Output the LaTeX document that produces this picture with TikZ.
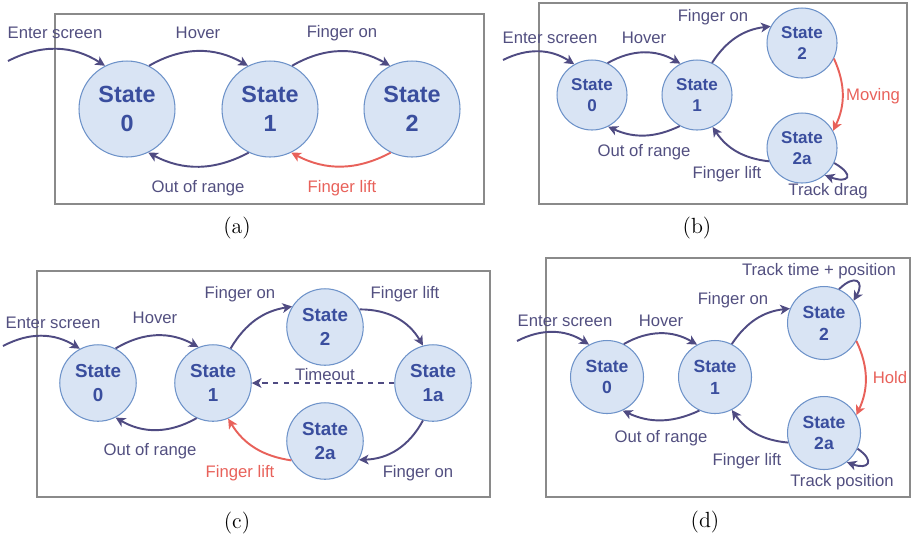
\documentclass[tikz,border=0pt]{standalone}
\usepackage{fontspec}
\usepackage{tikz}
\usetikzlibrary{arrows.meta}
\newfontfamily\lsans{Liberation Sans}
\definecolor{stfill}{HTML}{D9E4F4}
\definecolor{stline}{HTML}{6D92C9}
\definecolor{sttext}{HTML}{3A4E9E}
\definecolor{arr}{HTML}{4F4B82}
\definecolor{lbtext}{HTML}{524F80}
\definecolor{redc}{HTML}{E8615A}
\definecolor{frm}{HTML}{8A8A8A}

\begin{document}
\begin{tikzpicture}[x=0.02cm, y=-0.02cm, >={Stealth[length=5.5pt,width=5.5pt,inset=1.5pt]}]
	\tikzstyle{st} = [circle, draw=stline, fill=stfill, line width=.6pt, text=sttext, align=center, inner sep=0pt]
	\tikzstyle{sa} = [st, minimum size=1.92cm, font=\lsans\bfseries\fontsize{13.3}{16.5}\selectfont]
	\tikzstyle{sb} = [st, minimum size=1.40cm, font=\lsans\bfseries\fontsize{9.7}{12}\selectfont]
	\tikzstyle{sc} = [st, minimum size=1.53cm, font=\lsans\bfseries\fontsize{10.7}{13.2}\selectfont]
	\tikzstyle{sd} = [st, minimum size=1.46cm, font=\lsans\bfseries\fontsize{10}{12.4}\selectfont]
	\tikzstyle{lb} = [text=lbtext, inner sep=0pt, font=\lsans\fontsize{9.5}{11}\selectfont]
	\tikzstyle{lr} = [lb, text=redc]
	\tikzstyle{capt} = [inner sep=0pt, font=\fontsize{12.5}{14}\selectfont]
	\tikzstyle{tr} = [->, draw=arr, line width=1.1pt]
	\tikzstyle{rd} = [->, draw=redc, line width=1.1pt]
	\tikzstyle{frame} = [draw=frm, line width=.9pt]
	\useasboundingbox (0,0) rectangle (911,539);

	\draw [frame] (55,14) rectangle (484,204);
	\node [sa] (a0)  at (127,109) {State\\0};
	\node [sa] (a1)  at (270,109) {State\\1};
	\node [sa] (a2)  at (412,109) {State\\2};
	\coordinate (ain) at (8,61);
	\draw [tr] (ain)    to[bend left=30] (a0.117);
	\draw [tr] (a0.63)  to[bend left=30] (a1.117);
	\draw [tr] (a1.63)  to[bend left=30] (a2.117);
	\draw [tr] (a1.244) to[bend left=28] (a0.296);
	\draw [rd] (a2.244) to[bend left=28] (a1.296);
	\node [lb] (aenter) at (55,33)   {Enter screen};
	\node [lb] (ahover) at (198,33)  {Hover};
	\node [lb] (afon)   at (342,33)  {Finger on};
	\node [lb] (aout)   at (198,188) {Out of range};
	\node [lr] (alift)  at (342,188) {Finger lift};
	\node [capt] (acap) at (237,228) {(a)};

	\draw [frame] (539,3) rectangle (907,204);
	\node [sb] (b0)  at (592,95)  {State\\0};
	\node [sb] (b1)  at (697,95)  {State\\1};
	\node [sb] (b2)  at (802,43)  {State\\2};
	\node [sb] (b2a) at (802,148) {State\\2a};
	\coordinate (bin) at (503,60);
	\draw [tr] (bin)     to[bend left=30] (b0.120);
	\draw [tr] (b0.64)   to[bend left=30] (b1.118);
	\draw [tr] (b1.65)   to[bend left=25] (b2.152);
	\draw [rd] (b2.-26)  to[bend left=25] (b2a.29);
	\draw [tr] (b1.241)  to[bend left=25] (b0.297);
	\draw [tr] (b2a.202) to[bend left=25] (b1.296);
	\draw [tr] (b2a.-25) .. controls +(-30:.5cm) and +(-20:.5cm) .. (b2a.-50);
	\node [lb] (benter) at (550,38)  {Enter screen};
	\node [lb] (bhover) at (644,38)  {Hover};
	\node [lb] (bfon)   at (713,17)  {Finger on};
	\node [lr] (bmove)  at (873,96)  {Moving};
	\node [lb] (bout)   at (644,152) {Out of range};
	\node [lb] (blift)  at (727,174) {Finger lift};
	\node [lb] (bdrag)  at (828,191) {Track drag};
	\node [capt] (bcap) at (697,228) {(b)};

	\draw [frame] (37,271) rectangle (490,497);
	\node [sc] (c0)  at (98,383)  {State\\0};
	\node [sc] (c1)  at (213,383) {State\\1};
	\node [sc] (c2)  at (325,327) {State\\2};
	\node [sc] (c1a) at (433,383) {State\\1a};
	\node [sc] (c2a) at (325,441) {State\\2a};
	\coordinate (cin) at (3,346);
	\draw [tr] (cin)     to[bend left=30] (c0.118);
	\draw [tr] (c0.63)   to[bend left=30] (c1.112);
	\draw [tr] (c1.63)   to[bend left=25] (c2.148);
	\draw [tr] (c2.27)   to[bend left=30] (c1a.105);
	\draw [tr, dashed] (c1a.180) -- (c1.0);
	\draw [tr] (c1.245)  to[bend left=30] (c0.297);
	\draw [rd] (c2a.210) to[bend left=25] (c1.293);
	\draw [tr] (c1a.255) to[bend left=30] (c2a.331);
	\node [lb] (center) at (53,323)  {Enter screen};
	\node [lb] (chover) at (155,318) {Hover};
	\node [lb] (cfon)   at (240,294) {Finger on};
	\node [lb] (clift)  at (405,294) {Finger lift};
	\node [lb] (ctime)  at (325,375) {Timeout};
	\node [lb] (cout)   at (150,451) {Out of range};
	\node [lr] (clift2) at (240,473) {Finger lift};
	\node [lb] (cfon2)  at (418,473) {Finger on};
	\node [capt] (ccap) at (237,523) {(c)};

	\draw [frame] (546,258) rectangle (910,497);
	\node [sd] (d0)  at (607,377) {State\\0};
	\node [sd] (d1)  at (715,377) {State\\1};
	\node [sd] (d2)  at (824,323) {State\\2};
	\node [sd] (d2a) at (824,433) {State\\2a};
	\coordinate (din) at (517,341);
	\draw [tr] (din)     to[bend left=30] (d0.119);
	\draw [tr] (d0.63)   to[bend left=30] (d1.119);
	\draw [tr] (d1.63)   to[bend left=25] (d2.157);
	\draw [tr] (d2.66)   .. controls +(45:.45cm) and +(60:.45cm) .. (d2.37);
	\draw [rd] (d2.-29)  to[bend left=25] (d2a.29);
	\draw [tr] (d1.245)  to[bend left=25] (d0.295);
	\draw [tr] (d2a.195) to[bend left=25] (d1.297);
	\draw [tr] (d2a.-25) .. controls +(-35:.45cm) and +(-20:.45cm) .. (d2a.-52);
	\node [lb] (dtrack) at (819,271) {Track time + position};
	\node [lb] (dfon)   at (733,300) {Finger on};
	\node [lb] (denter) at (565,321) {Enter screen};
	\node [lb] (dhover) at (661,321) {Hover};
	\node [lr] (dhold)  at (890,378) {Hold};
	\node [lb] (dout)   at (661,438) {Out of range};
	\node [lb] (dlift)  at (747,461) {Finger lift};
	\node [lb] (dpos)   at (842,482) {Track position};
	\node [capt] (dcap) at (705,522) {(d)};
\end{tikzpicture}
\end{document}
